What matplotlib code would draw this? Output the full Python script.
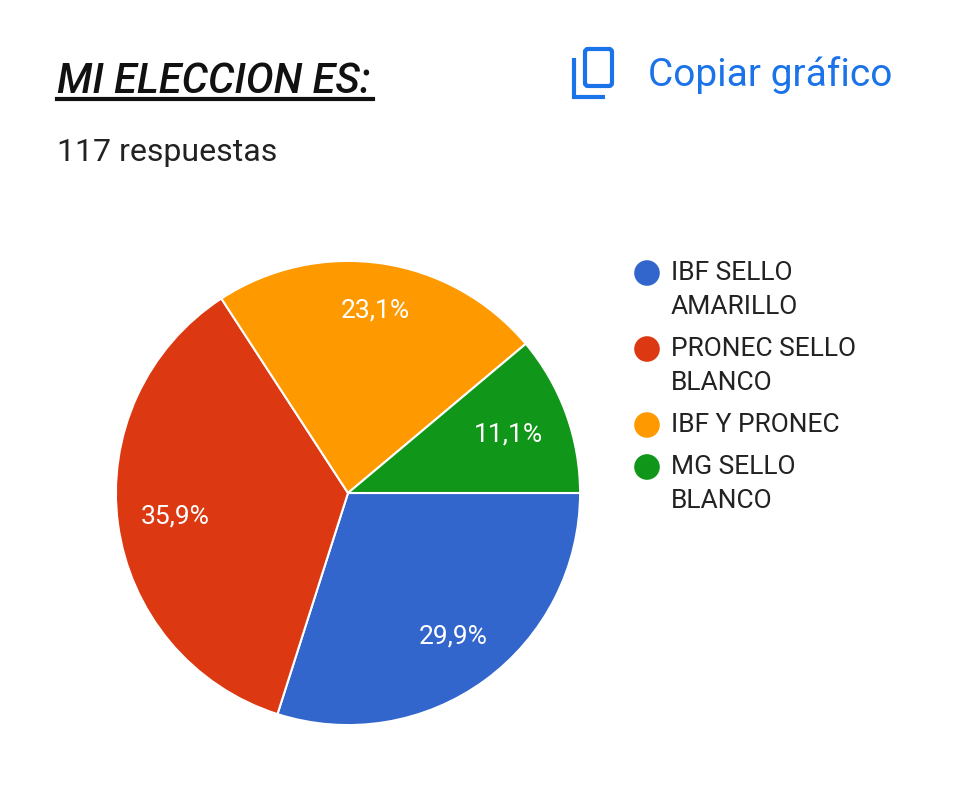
import numpy as np
import matplotlib
matplotlib.use('Agg')
import matplotlib.pyplot as plt
from matplotlib.patches import FancyBboxPatch
from matplotlib.lines import Line2D

# Data
labels = ['IBF SELLO\nAMARILLO', 'PRONEC SELLO\nBLANCO', 'IBF Y PRONEC', 'MG SELLO\nBLANCO']
counts = [35, 42, 27, 13]
colors = ['#3366cc', '#dc3912', '#ff9900', '#109618']
title = 'MI ELECCION ES:'
subtitle = f'{sum(counts)} respuestas'

# how far from the centre each % label sits (fraction of radius)
label_dist = [0.766, 0.75, 0.797, 0.735]

plt.rcParams['font.family'] = ['Roboto', 'DejaVu Sans']

W, H = 960, 790
fig = plt.figure(figsize=(W / 100, H / 100), dpi=100)
fig.patch.set_facecolor('white')

# Pie axes: center (348, 493), radius ~232 px
cx, cy, r = 348, 493, 233
ax = fig.add_axes([(cx - r) / W, (H - cy - r) / H, 2 * r / W, 2 * r / H])
wedges, texts, autotexts = ax.pie(
    counts, colors=colors, startangle=0, counterclock=False,
    autopct=lambda p: f'{p:.1f}%'.replace('.', ','),
    wedgeprops=dict(edgecolor='white', linewidth=1.5),
    textprops=dict(color='white', fontsize=19))
for w, t, d in zip(wedges, autotexts, label_dist):
    ang = np.deg2rad((w.theta1 + w.theta2) / 2)
    t.set_position((d * np.cos(ang), d * np.sin(ang)))
ax.set_xlim(-1.004, 1.004)
ax.set_ylim(-1.004, 1.004)
ax.set_aspect('equal')
ax.axis('off')

# Overlay in pixel coordinates for header, icon and legend
ov = fig.add_axes([0, 0, 1, 1], zorder=5)
ov.set_xlim(0, W)
ov.set_ylim(H, 0)
ov.axis('off')
ov.patch.set_alpha(0)

ov.text(57, 93, title, fontsize=30, style='italic', fontweight='medium',
        color='#111111', va='baseline', ha='left')
ov.add_line(Line2D([57, 373], [98.5, 98.5], color='#111111', linewidth=3))
ov.text(57, 161, subtitle, fontsize=23, color='#222222', va='baseline', ha='left')

blue = '#1a73e8'
ov.text(648, 86, 'Copiar gráfico', fontsize=28, color=blue, va='baseline', ha='left')
ov.add_patch(FancyBboxPatch((585, 49), 27, 37, boxstyle='round,pad=0,rounding_size=3',
                            fill=False, edgecolor=blue, linewidth=3))
ov.add_line(Line2D([574, 574, 605], [58, 96.5, 96.5], color=blue, linewidth=3,
                   solid_capstyle='butt', solid_joinstyle='miter'))

# Legend
y = 273
line_h = 34
for lab, col in zip(labels, colors):
    ov.scatter([647], [y], s=340, color=col, edgecolors='none')
    for i, part in enumerate(lab.split('\n')):
        ov.text(671, y + i * line_h, part, fontsize=19, color='#222222', va='center', ha='left')
    y += len(lab.split('\n')) * line_h + 8

fig.savefig('out.png', dpi=100, facecolor='white')
